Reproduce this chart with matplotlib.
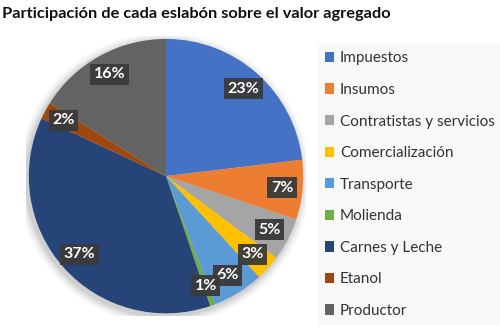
import numpy as np
import matplotlib
matplotlib.use("Agg")
import matplotlib.pyplot as plt
from matplotlib.patches import Circle

# data (percent of value added)
labels = ["Impuestos", "Insumos", "Contratistas y servicios", "Comercialización",
          "Transporte", "Molienda", "Carnes y Leche", "Etanol", "Productor"]
values = [23, 7, 5, 3, 6, 0.6, 37, 2, 16]
colors = ["#4472C4", "#ED7D31", "#A5A5A5", "#FFC000", "#5B9BD5",
          "#70AD47", "#264478", "#9E480E", "#636363"]

plt.rcParams['font.family'] = ['Lato', 'DejaVu Sans']

fig = plt.figure(figsize=(5, 3.32), dpi=100)
fig.text(0.004, 0.958, "Participación de cada eslabón sobre el valor agregado",
         fontsize=11.8, fontweight="bold", color="#111111", va="center")

ax = fig.add_axes([0.052, 0.048, 0.56, 0.843])

# soft shadow around the pie
for i, a in enumerate(np.linspace(0.05, 0.012, 6)):
  ax.add_patch(Circle((-0.015, -0.02), 1.0 + 0.012 * (i + 1), color="black",
                      alpha=a, lw=0, zorder=0))

wedges, texts, autotexts = ax.pie(values, colors=colors, startangle=90,
                                  counterclock=False, autopct="%.0f%%",
                                  pctdistance=0.85, radius=1.0,
                                  wedgeprops=dict(linewidth=0))
for w in wedges:
  w.set_zorder(2)

for t in autotexts:
  t.set_color("white")
  t.set_fontweight("bold")
  t.set_fontsize(11.5)
  t.set_zorder(5)
  t.set_bbox(dict(boxstyle="square,pad=0.22", facecolor="#3a3a3a",
                  edgecolor="none", alpha=0.95))
ax.set_xlim(-1.02, 1.02)
ax.set_ylim(-1.02, 1.02)
ax.set_aspect("equal")

leg = fig.legend(wedges, labels, loc="upper left", bbox_to_anchor=(0.62, 0.889),
                 frameon=True, fontsize=11, handlelength=0.65, handleheight=0.65,
                 handletextpad=0.35, labelspacing=1.15, borderpad=0.45,
                 labelcolor="#333333")
leg.get_frame().set_facecolor("#f7f7f7")
leg.get_frame().set_edgecolor("none")
leg.get_frame().set_boxstyle("square", pad=0)

fig.savefig("out.png", dpi=100)
